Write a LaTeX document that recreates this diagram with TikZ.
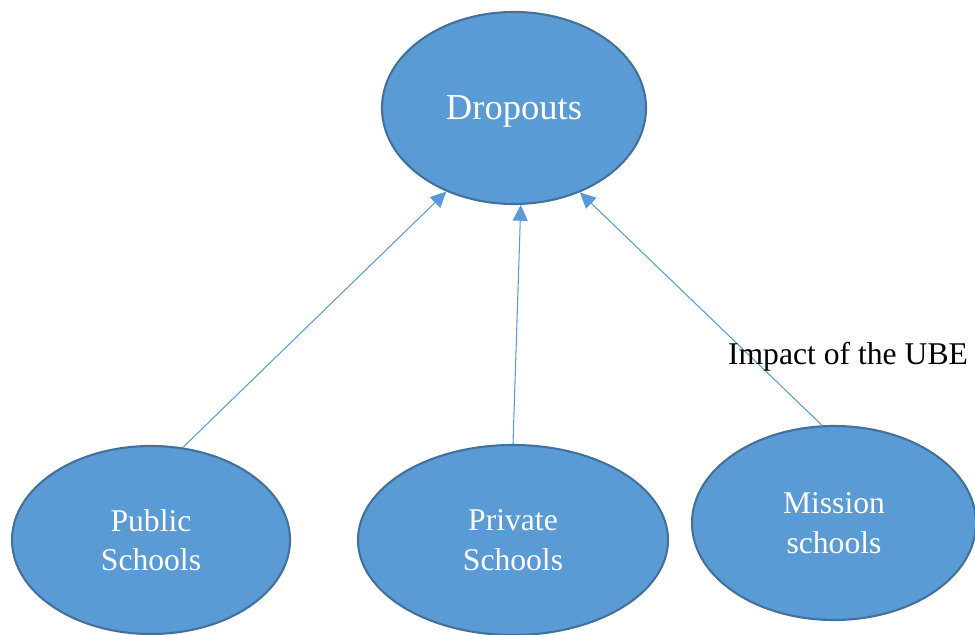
\documentclass[tikz,border=0pt]{standalone}
\usepackage{fontspec}
\setmainfont{Liberation Serif}
\usetikzlibrary{%
	shapes.geometric,%
	arrows.meta
}
\definecolor{bubblefill}{HTML}{5B9BD5}
\definecolor{bubbleedge}{HTML}{41719C}

\tikzset{
	bubble/.style={ellipse, fill=bubblefill, draw=bubbleedge, line width=1.2pt,
		text=white, align=center, inner sep=0pt, text depth=0pt,
		font=\fontsize{18}{22.5}\selectfont},
	link/.style={draw=bubblefill, line width=0.6pt,
		-{Triangle[length=9pt,width=8.5pt]}}
}

\begin{document}
\begin{tikzpicture}
		\useasboundingbox (0,0) rectangle (19.5,-12.7);

		% Top bubble
		\node[bubble, minimum width=5.28cm, minimum height=3.84cm,
			font=\fontsize{20.8}{25}\selectfont] (drop) at (10.28,-2.16) {Dropouts};

		% Bottom bubbles
		\node[bubble, minimum width=5.56cm, minimum height=3.76cm] (pub) at (3.02,-10.8) {Public\\Schools};
		\node[bubble, minimum width=6.2cm, minimum height=3.8cm] (priv) at (10.26,-10.8) {Private\\Schools};
		\node[bubble, minimum width=5.68cm, minimum height=3.88cm] (miss) at (16.68,-10.46) {Mission\\schools};

		% Arrows up to the top bubble
		\draw[link] (pub.71) -- (drop.231);
		\draw[link] (priv.90) -- (drop.274);
		\draw[link] (miss.97) -- (drop.308);

		\node[font=\fontsize{18}{22}\selectfont] (impact) at (16.96,-7.14) {Impact of the UBE};

	\end{tikzpicture}
\end{document}
